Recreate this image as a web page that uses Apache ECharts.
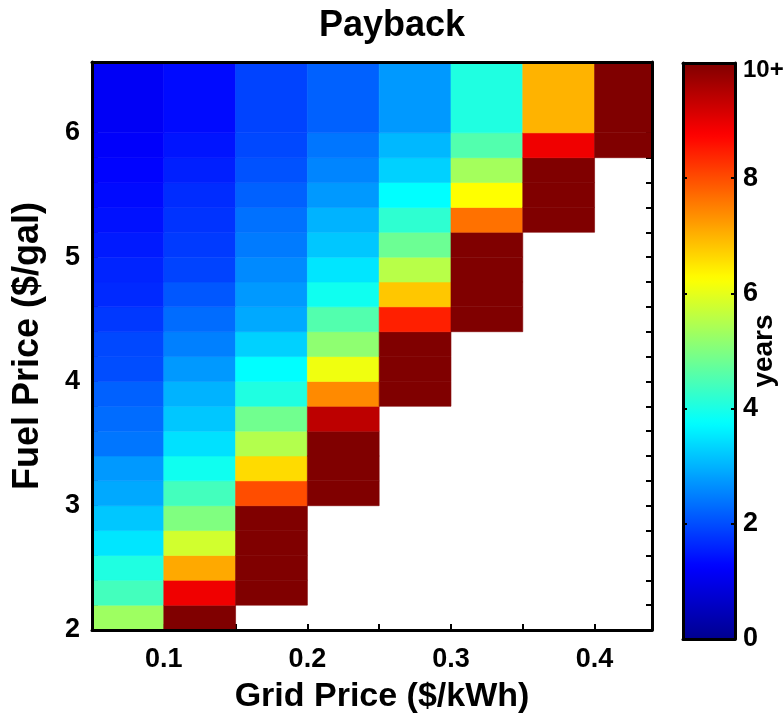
<!DOCTYPE html>
<html>
<head>
<meta charset="utf-8">
<title>Payback</title>
<script src="https://cdn.jsdelivr.net/npm/echarts@6/dist/echarts.min.js"></script>
<style>
  html, body { margin: 0; padding: 0; background: #fff; }
  #main { width: 784px; height: 722px; }
</style>
</head>
<body>
<div id="main"></div>
<script>
// cell edges (pcolor style): grid price columns, fuel price rows
var gridEdges = [0.05, 0.10, 0.15, 0.20, 0.25, 0.30, 0.35, 0.40, 0.44];
var fuelEdges = [2.0, 2.2, 2.4, 2.6, 2.8, 3.0, 3.2, 3.4, 3.6, 3.8, 4.0,
                 4.2, 4.4, 4.6, 4.8, 5.0, 5.2, 5.4, 5.6, 5.8, 6.0, 6.57];

// payback years per column, bottom row (2.0 $/gal) to top; null = no cell, 10 = "10+"
var col005 = [5.3, 4.4, 4.05, 3.5, 3.2, 2.9, 2.75, 2.4, 2.3, 2.2, 2.0, 1.95, 1.8, 1.65, 1.6, 1.5, 1.42, 1.35, 1.28, 1.2, 1.15];
var col010 = [10, 8.9, 7.1, 5.8, 5.0, 4.4, 3.9, 3.45, 3.2, 3.0, 2.75, 2.5, 2.3, 2.1, 1.9, 1.82, 1.75, 1.68, 1.55, 1.45, 1.35];
var col015 = [null, 10, 10, 10, 10, 8.0, 6.6, 5.5, 4.85, 4.05, 3.75, 3.3, 2.9, 2.75, 2.6, 2.45, 2.35, 2.2, 2.05, 1.95, 1.9];
var col020 = [null, null, null, null, null, 10, 10, 10, 9.4, 7.4, 6.1, 5.15, 4.55, 3.9, 3.5, 3.2, 3.0, 2.75, 2.55, 2.4, 2.2];
var col025 = [null, null, null, null, null, null, null, null, null, 10, 10, 10, 8.45, 6.8, 5.55, 4.8, 4.2, 3.75, 3.3, 3.05, 2.75];
var col030 = [null, null, null, null, null, null, null, null, null, null, null, null, 10, 10, 10, 10, 7.65, 6.25, 5.35, 4.55, 4.05];
var col035 = [null, null, null, null, null, null, null, null, null, null, null, null, null, null, null, null, 10, 10, 10, 8.9, 7.0];
var col040 = [null, null, null, null, null, null, null, null, null, null, null, null, null, null, null, null, null, null, null, 10, 10];

var columns = [col005, col010, col015, col020, col025, col030, col035, col040];

// colorbar ticks
var barTicks = [0, 2, 4, 6, 8, 10];

// matlab jet
var jet = ['#00008f', '#0000ff', '#0080ff', '#00ffff', '#80ff80', '#ffff00', '#ff8000', '#ff0000', '#800000'];

var FONT = "'Liberation Sans', Arial, Helvetica, sans-serif";

var cells = [];
for (var c = 0; c < columns.length; c++) {
    for (var r = 0; r < columns[c].length; r++) {
        if (columns[c][r] == null) continue;
        cells.push([gridEdges[c], gridEdges[c + 1], fuelEdges[r], fuelEdges[r + 1], columns[c][r]]);
    }
}

function near(v, step) {
    return Math.abs(v / step - Math.round(v / step)) < 1e-6;
}

function lineOnly(extra) {
    var a = {
        type: 'value',
        axisLine: { show: true, onZero: false, lineStyle: { color: '#000', width: 3 } },
        axisTick: { show: false },
        axisLabel: { show: false },
        splitLine: { show: false }
    };
    for (var k in extra) a[k] = extra[k];
    return a;
}

var tickFont = 27;

var myChart = echarts.init(document.getElementById('main'), null, { renderer: 'canvas' });

var option = {
    backgroundColor: '#fff',
    animation: false,
    title: {
        text: 'Payback',
        left: 'center',
        top: 3,
        textStyle: { color: '#000', fontSize: 36, fontWeight: 'bold', fontFamily: FONT }
    },
    grid: [
        { left: 92, right: 132, top: 62, bottom: 92, outerBoundsMode: 'none' },
        { left: 683, top: 63, width: 52, height: 576, outerBoundsMode: 'none' }
    ],
    xAxis: [
        {
            gridIndex: 0, type: 'value', position: 'bottom',
            min: gridEdges[0], max: gridEdges[gridEdges.length - 1], interval: 0.05,
            axisLine: { show: false, onZero: false },
            axisTick: { inside: true, length: 6, lineStyle: { color: '#000', width: 2 } },
            axisLabel: {
                margin: 16,
                color: '#000', fontSize: tickFont, fontWeight: 'bold', fontFamily: FONT,
                formatter: function (v) { return near(v, 0.1) && v > 0.06 ? (Math.round(v * 10) / 10).toFixed(1) : ''; }
            },
            splitLine: { show: false },
            name: 'Grid Price ($/kWh)', nameLocation: 'middle', nameGap: 50, nameMoveOverlap: false,
            nameTextStyle: { color: '#000', fontSize: 34, fontWeight: 'bold', fontFamily: FONT, padding: [0, 0, 0, 20] },
            z: 0
        },
        lineOnly({ gridIndex: 0, position: 'bottom', min: gridEdges[0], max: gridEdges[gridEdges.length - 1], z: 5 }),
        lineOnly({ gridIndex: 0, position: 'top', min: gridEdges[0], max: gridEdges[gridEdges.length - 1], z: 5 }),
        lineOnly({ gridIndex: 1, position: 'bottom', min: 0, max: 1, z: 10 }),
        lineOnly({ gridIndex: 1, position: 'top', min: 0, max: 1, z: 10 })
    ],
    yAxis: [
        {
            gridIndex: 0, type: 'value', position: 'left',
            min: fuelEdges[0], max: fuelEdges[fuelEdges.length - 1], interval: 0.2,
            axisLine: { show: false, onZero: false },
            axisTick: { inside: true, length: 6, lineStyle: { color: '#000', width: 2 } },
            axisLabel: {
                margin: 12,
                color: '#000', fontSize: tickFont, fontWeight: 'bold', fontFamily: FONT,
                formatter: function (v) { return near(v, 1) ? String(Math.round(v)) : ''; }
            },
            splitLine: { show: false },
            name: 'Fuel Price ($/gal)', nameLocation: 'middle', nameGap: 46, nameRotate: 90, nameMoveOverlap: false,
            nameTextStyle: { color: '#000', fontSize: 36, fontWeight: 'bold', fontFamily: FONT },
            z: 0
        },
        {
            gridIndex: 0, type: 'value', position: 'right',
            min: fuelEdges[0], max: fuelEdges[fuelEdges.length - 1], interval: 0.2,
            axisLine: { show: false, onZero: false },
            axisTick: { inside: true, length: 6, lineStyle: { color: '#000', width: 2 } },
            axisLabel: { show: false },
            splitLine: { show: false },
            z: 0
        },
        lineOnly({ gridIndex: 0, position: 'left', min: fuelEdges[0], max: fuelEdges[fuelEdges.length - 1], z: 5 }),
        lineOnly({ gridIndex: 0, position: 'right', min: fuelEdges[0], max: fuelEdges[fuelEdges.length - 1], z: 5 }),
        {
            // colorbar scale
            gridIndex: 1, type: 'value', position: 'right',
            min: barTicks[0], max: barTicks[barTicks.length - 1], interval: 2,
            axisLine: { show: true, onZero: false, lineStyle: { color: '#000', width: 3 } },
            axisTick: { inside: true, length: 4, lineStyle: { color: '#000', width: 2 } },
            axisLabel: {
                margin: 8,
                color: '#000', fontSize: tickFont, fontWeight: 'bold', fontFamily: FONT,
                formatter: function (v) { return v === 10 ? '{top|10+}' : String(v); },
                rich: { top: { fontSize: 24, fontWeight: 'bold', fontFamily: FONT, color: '#000', padding: [14, 0, 0, 0] } }
            },
            splitLine: { show: false },
            name: 'years', nameLocation: 'middle', nameGap: 15, nameRotate: 90, nameMoveOverlap: false,
            nameTextStyle: { color: '#000', fontSize: 28, fontWeight: 'bold', fontFamily: FONT },
            z: 10
        },
        {
            gridIndex: 1, type: 'value', position: 'left',
            min: barTicks[0], max: barTicks[barTicks.length - 1], interval: 2,
            axisLine: { show: true, onZero: false, lineStyle: { color: '#000', width: 3 } },
            axisTick: { inside: true, length: 4, lineStyle: { color: '#000', width: 2 } },
            axisLabel: { show: false },
            splitLine: { show: false },
            z: 10
        }
    ],
    visualMap: {
        type: 'continuous',
        seriesIndex: 0,
        dimension: 4,
        min: 0,
        max: 10,
        calculable: false,
        hoverLink: false,
        orient: 'vertical',
        left: 683,
        top: 63,
        padding: 0,
        itemWidth: 52,
        itemHeight: 576,
        inRange: { color: jet },
        outOfRange: { color: jet[jet.length - 1] }
    },
    series: [{
        name: 'payback',
        type: 'custom',
        xAxisIndex: 0,
        yAxisIndex: 0,
        encode: { x: [0, 1], y: [2, 3] },
        renderItem: function (params, api) {
            var lt = api.coord([api.value(0), api.value(3)]);
            var rb = api.coord([api.value(1), api.value(2)]);
            var col = api.visual('color');
            return {
                type: 'rect',
                shape: { x: lt[0], y: lt[1], width: rb[0] - lt[0], height: rb[1] - lt[1] },
                style: { fill: col, stroke: col, lineWidth: 0.6 }
            };
        },
        data: cells,
        z: 2
    }]
};
myChart.setOption(option);
</script>
</body>
</html>
